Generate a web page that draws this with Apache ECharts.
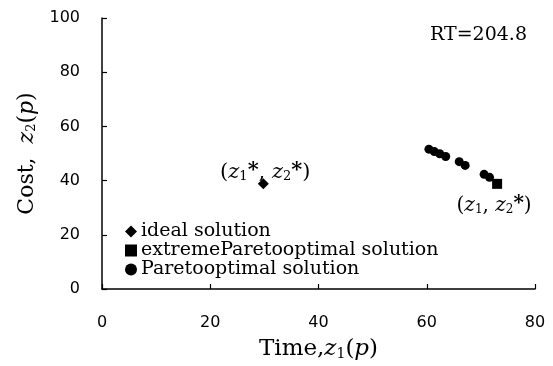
<!DOCTYPE html>
<html><head><meta charset="utf-8">
<script src="https://cdn.jsdelivr.net/npm/echarts@6/dist/echarts.min.js"></script>
<style>html,body{margin:0;padding:0;background:#fff}#c{width:553px;height:366px}</style>
</head><body><div id="c"></div>
<script>
const xTicks = [0, 20, 40, 60, 80];
const yTicks = [0, 20, 40, 60, 80, 100];
const idealPoints = [[29.8, 38.8]];
const extremePoints = [[73.0, 38.8]];
const paretoPoints = [
  [60.4, 51.6], [61.4, 50.7], [62.4, 49.9], [63.5, 48.9],
  [66.0, 47.0], [67.1, 45.6], [70.6, 42.3], [71.6, 41.2]
];
const serif = '"DejaVu Serif","Liberation Serif",serif';
const sans = '"DejaVu Sans","Liberation Sans",Arial,sans-serif';
function mkRich(fs) {
  return {
    t: {fontFamily: serif, fontSize: fs, color: '#000'},
    i: {fontFamily: serif, fontSize: fs, fontStyle: 'italic', color: '#000'},
    s: {fontFamily: serif, fontSize: Math.round(fs * 0.6), color: '#000', padding: [Math.round(fs * 0.4), 0, 0, 0]},
    a: {fontFamily: serif, fontSize: fs, fontWeight: 'bold', color: '#000', padding: [0, 0, Math.round(fs * 0.2), 0]}
  };
}
const chart = echarts.init(document.getElementById('c'));
chart.setOption({
  animation: false,
  backgroundColor: '#fff',
  grid: {left: 102, top: 18, width: 433, height: 275},
  title: {text: 'RT=204.8', right: 21, top: 21, textStyle: {fontFamily: serif, fontSize: 19, fontWeight: 'normal', color: '#000'}},
  legend: {
    orient: 'vertical', left: 120, top: 217, itemGap: 0, itemWidth: 12, itemHeight: 12,
    textStyle: {fontFamily: serif, fontSize: 19, lineHeight: 18, color: '#000', padding: [0, 0, 0, -1]},
    data: [
      {name: 'ideal solution', icon: 'diamond', itemStyle: {color: '#000', opacity: 1}},
      {name: 'extremeParetooptimal solution', icon: 'rect', itemStyle: {color: '#000', opacity: 1}},
      {name: 'Paretooptimal solution', icon: 'circle', itemStyle: {color: '#000', opacity: 1}}
    ]
  },
  xAxis: {
    type: 'value', min: 0, max: 80, interval: 20,
    name: '{t|Time,}{i|z}{s|1}{t|(}{i|p}{t|)}', nameLocation: 'middle', nameGap: 49,
    nameTextStyle: {rich: mkRich(23)},
    axisLine: {lineStyle: {color: '#000', width: 1.5}},
    axisTick: {inside: true, length: 5, lineStyle: {color: '#000', width: 1.2}},
    axisLabel: {fontFamily: sans, fontSize: 16, color: '#000', margin: 26,
      formatter: v => xTicks.includes(v) ? String(v) : ''},
    splitLine: {show: false}
  },
  yAxis: {
    type: 'value', min: 0, max: 100, interval: 20,
    name: '{t|Cost,  }{i|z}{s|2}{t|(}{i|p}{t|)}', nameLocation: 'middle', nameGap: 64, nameRotate: 90,
    nameTextStyle: {rich: mkRich(22)},
    axisLine: {lineStyle: {color: '#000', width: 1.5}},
    axisTick: {inside: true, length: 5, lineStyle: {color: '#000', width: 1.2}},
    axisLabel: {fontFamily: sans, fontSize: 16, color: '#000', margin: 22,
      formatter: v => yTicks.includes(v) ? String(v) : ''},
    splitLine: {show: false}
  },
  series: [
    {name: 'ideal solution', type: 'scatter', symbol: 'diamond', symbolSize: 11,
      itemStyle: {color: '#000', opacity: 1}, data: idealPoints,
      label: {show: true, position: 'top', distance: -7, offset: [2, 0], color: '#000', rich: mkRich(21),
        formatter: '{t|(}{i|z}{s|1}{a|*}{t|, }{i|z}{s|2}{a|*}{t|)}'}},
    {name: 'extremeParetooptimal solution', type: 'scatter', symbol: 'rect', symbolSize: 10,
      itemStyle: {color: '#000', opacity: 1}, data: extremePoints,
      label: {show: true, position: 'bottom', distance: 5, offset: [-3, 0], color: '#000', rich: mkRich(20),
        formatter: '{t|(}{i|z}{s|1}{t|, }{i|z}{s|2}{a|*}{t|)}'}},
    {name: 'Paretooptimal solution', type: 'scatter', symbol: 'circle', symbolSize: 9,
      itemStyle: {color: '#000', opacity: 1}, data: paretoPoints}
  ]
});
</script></body></html>
